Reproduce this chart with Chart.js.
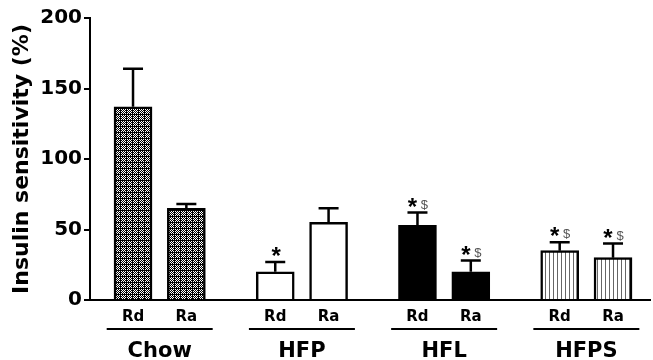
<!DOCTYPE html>
<html>
<head>
<meta charset="utf-8">
<script src="https://cdn.jsdelivr.net/npm/chart.js@4"></script>
<style>
  html, body { margin: 0; padding: 0; background: #fff; }
  #wrap { width: 653px; height: 360px; }
</style>
</head>
<body>
<div id="wrap"><canvas id="chart" width="653" height="360"></canvas></div>
<script>
// dados
const groups = ['Chow', 'HFP', 'HFL', 'HFPS'];
const subLabels = ['Rd', 'Ra', 'Rd', 'Ra', 'Rd', 'Ra', 'Rd', 'Ra'];
const values = [137, 65, 20, 55, 53, 20, 35, 30];
const errors = [27, 3, 7, 10, 9, 8, 6, 10];
const marks = ['', '', '*', '', '*$', '*$', '*$', '*$'];
const yTicks = [0, 50, 100, 150, 200];

// posição de cada barra no eixo x (grupo * 8 + sub * 3)
const xPos = subLabels.map((_, i) => Math.floor(i / 2) * 8 + (i % 2) * 3);

const FONT = "'DejaVu Sans', sans-serif";

// padrões de preenchimento
function makePattern(w, h, draw) {
  const c = document.createElement('canvas');
  c.width = w; c.height = h;
  const g = c.getContext('2d');
  draw(g);
  return g.createPattern(c, 'repeat');
}

const ctx = document.getElementById('chart').getContext('2d');

// xadrez com grade (Chow)
const checkPattern = makePattern(6, 6, g => {
  g.fillStyle = '#fff';
  g.fillRect(0, 0, 6, 6);
  g.fillStyle = '#000';
  for (let i = 0; i < 6; i++) {
    for (let j = 0; j < 6; j++) {
      if (i === 0 || j === 0 || (i + j) % 2 === 1) g.fillRect(i, j, 1, 1);
    }
  }
});

// listras verticais (HFPS)
const stripePattern = makePattern(4, 4, g => {
  g.fillStyle = '#fff';
  g.fillRect(0, 0, 4, 4);
  g.fillStyle = '#666';
  g.fillRect(1, 0, 1, 4);
});

const fills = [checkPattern, checkPattern, '#fff', '#fff', '#000', '#000', stripePattern, stripePattern];

// barras de erro + marcas de significância
const errorBarPlugin = {
  id: 'errorBars',
  afterDatasetsDraw(chart) {
    const { ctx } = chart;
    const yScale = chart.scales.y;
    const meta = chart.getDatasetMeta(0);
    ctx.save();
    ctx.strokeStyle = '#000';
    ctx.lineWidth = 2.5;
    meta.data.forEach((bar, i) => {
      const x = bar.x;
      const yTop = yScale.getPixelForValue(values[i]);
      const yErr = yScale.getPixelForValue(values[i] + errors[i]);
      ctx.beginPath();
      ctx.moveTo(x, yTop);
      ctx.lineTo(x, yErr);
      ctx.moveTo(x - 10, yErr);
      ctx.lineTo(x + 10, yErr);
      ctx.stroke();

      const m = marks[i];
      if (!m) return;
      ctx.textBaseline = 'alphabetic';
      ctx.textAlign = 'center';
      ctx.fillStyle = '#000';
      ctx.font = "bold 24px 'Liberation Sans', Arial, sans-serif";
      if (m === '*') {
        ctx.fillText('*', x + 1, yErr + 2);
      } else {
        ctx.fillText('*', x - 5, yErr + 2);
        ctx.fillStyle = '#555';
        ctx.font = "13px 'Liberation Sans', Arial, sans-serif";
        ctx.fillText('$', x + 7, yErr - 4);
      }
    });
    ctx.restore();
  }
};

// linhas e nomes dos grupos abaixo do eixo x
const groupLabelPlugin = {
  id: 'groupLabels',
  afterDraw(chart) {
    const { ctx } = chart;
    const xScale = chart.scales.x;
    ctx.save();
    groups.forEach((name, g) => {
      const x1 = xScale.getPixelForValue(xPos[g * 2]);
      const x2 = xScale.getPixelForValue(xPos[g * 2 + 1]);
      const cx = (x1 + x2) / 2;
      ctx.strokeStyle = '#000';
      ctx.lineWidth = 2;
      ctx.beginPath();
      ctx.moveTo(cx - 53, 329);
      ctx.lineTo(cx + 53, 329);
      ctx.stroke();
      ctx.fillStyle = '#000';
      ctx.font = 'bold 21px ' + FONT;
      ctx.textAlign = 'center';
      ctx.textBaseline = 'alphabetic';
      ctx.fillText(name, cx, 357);
    });
    ctx.restore();
  }
};

new Chart(ctx, {
  type: 'bar',
  data: {
    datasets: [{
      data: xPos.map((x, i) => ({ x, y: values[i] })),
      backgroundColor: fills,
      borderColor: '#000',
      borderWidth: 2.5,
      borderSkipped: 'bottom',
      barThickness: 38,
    }]
  },
  options: {
    responsive: false,
    animation: false,
    layout: { padding: { top: 18, right: 3, left: 0, bottom: 0 } },
    plugins: {
      legend: { display: false },
      tooltip: { enabled: false },
    },
    scales: {
      x: {
        type: 'linear',
        offset: false,
        min: -2.42,
        max: 29.08,
        afterBuildTicks(scale) {
          scale.ticks = xPos.map(v => ({ value: v }));
        },
        afterFit(scale) { scale.height = 60; },
        grid: { drawOnChartArea: false, drawTicks: false, offset: false },
        border: { display: true, color: '#000', width: 2 },
        ticks: {
          autoSkip: false,
          maxRotation: 0,
          padding: 8,
          color: '#000',
          font: { family: FONT, size: 15, weight: 'bold' },
          callback: (v) => subLabels[xPos.indexOf(v)] ?? '',
        },
      },
      y: {
        min: 0,
        max: 200,
        afterBuildTicks(scale) {
          scale.ticks = yTicks.map(v => ({ value: v }));
        },
        afterFit(scale) { scale.width = 90; },
        grid: { drawOnChartArea: false, drawTicks: true, tickLength: 6, color: '#000', lineWidth: 2 },
        border: { display: true, color: '#000', width: 2 },
        ticks: {
          padding: 2,
          color: '#000',
          font: { family: FONT, size: 20, weight: 'bold' },
        },
        title: {
          display: true,
          text: 'Insulin sensitivity (%)',
          color: '#000',
          font: { family: FONT, size: 22, weight: 'bold' },
          padding: { top: 9, bottom: 0 },
        },
      },
    },
  },
  plugins: [errorBarPlugin, groupLabelPlugin],
});
</script>
</body>
</html>
